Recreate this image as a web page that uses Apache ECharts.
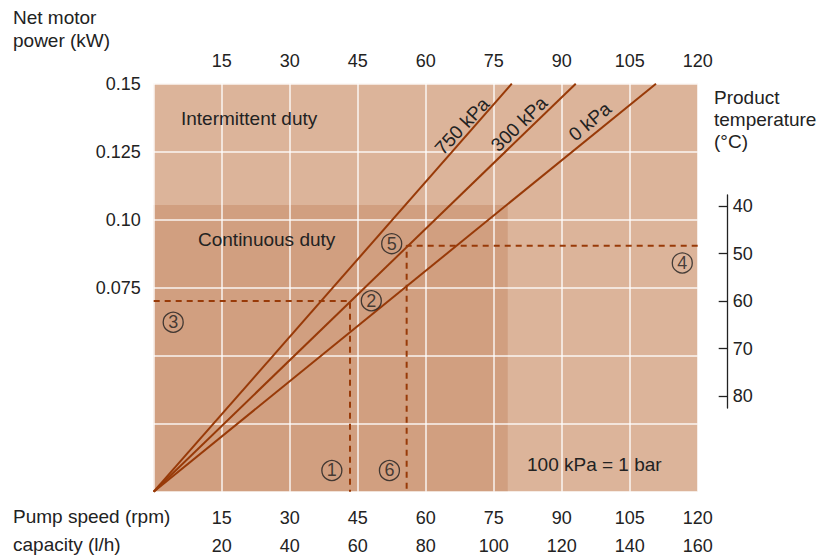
<!DOCTYPE html>
<html><head><meta charset="utf-8">
<script src="https://cdn.jsdelivr.net/npm/echarts@6/dist/echarts.min.js"></script>
<style>html,body{margin:0;padding:0;background:#fff}#c{width:827px;height:556px}</style>
</head><body><div id="c"></div>
<script>
// ---- data ----
const rpmTicks = [15, 30, 45, 60, 75, 90, 105, 120];
const capacityTicks = [20, 40, 60, 80, 100, 120, 140, 160];
const powerTickValues = [0.075, 0.1, 0.125, 0.15];
const powerTickLabels = ['0.075', '0.10', '0.125', '0.15'];
const tempTicks = [40, 50, 60, 70, 80];
const pressureNames = ['750 kPa', '300 kPa', '0 kPa'];
const rpmAtTopPower = [79.0, 93.1, 110.8];      // rpm where each curve reaches 0.15 kW
const topPower = 0.15;
const continuousRpmMax = 78.1;
const continuousPowerMax = 0.1054;
const exampleA = [[0, 0.0701], [43.3, 0.0701], [43.3, 0]];
const exampleB = [[120, 0.0904], [55.8, 0.0904], [55.8, 0]];
const markerNames = ['1', '2', '3', '4', '5', '6'];
const markerPoints = [[39.3, 0.0078], [48.0, 0.0702], [4.3, 0.0623], [116.6, 0.0841], [52.5, 0.0912], [52.0, 0.0078]];
const pressureLabelPos = [[68.0, 0.1344], [80.6, 0.1352], [96.2, 0.1361]];
const pressureLabelRot = [47, 44, 40];

// ---- styles ----
const FONT = 'Liberation Sans';
const TXT = '#222222';
const LINE = '#983a08';
const LIGHT = '#dcb49a';
const DARK = '#d19f80';
const FS = 18;   // digits
const FW = 19;   // words

const chart = echarts.init(document.getElementById('c'), null, {renderer: 'svg'});

const splitWhite = {show: true, lineStyle: {color: 'rgba(255,255,255,0.88)', width: 1.5}};

const series = [];
series.push({
  type: 'line', xAxisIndex: 0, yAxisIndex: 0, data: [], z: 1, silent: true,
  markArea: {
    silent: true,
    data: [
      [{xAxis: 0, yAxis: 0, itemStyle: {color: LIGHT}}, {xAxis: 120, yAxis: topPower}],
      [{xAxis: 0, yAxis: 0, itemStyle: {color: DARK}}, {xAxis: continuousRpmMax, yAxis: continuousPowerMax}]
    ]
  }
});
pressureNames.forEach((n, i) => {
  series.push({
    type: 'line', name: n, xAxisIndex: 0, yAxisIndex: 0, z: 10, symbol: 'none',
    lineStyle: {color: LINE, width: 2}, animation: false,
    data: [[0, 0], [rpmAtTopPower[i], topPower]],
    markPoint: {
      symbol: 'circle', symbolSize: 1, itemStyle: {color: 'rgba(0,0,0,0)'},
      data: [{coord: pressureLabelPos[i], label: {show: true, formatter: n, position: 'inside', rotate: pressureLabelRot[i], color: TXT, fontFamily: FONT, fontSize: FW}}]
    }
  });
});
[exampleA, exampleB].forEach(d => {
  series.push({
    type: 'line', xAxisIndex: 0, yAxisIndex: 0, z: 9, symbol: 'none', animation: false,
    lineStyle: {color: LINE, width: 2, type: [6, 5]}, data: d
  });
});
series.push({
  type: 'scatter', xAxisIndex: 0, yAxisIndex: 0, z: 11, symbol: 'circle', symbolSize: 20,
  itemStyle: {color: 'rgba(0,0,0,0)', borderColor: '#1e1e1e', borderWidth: 1.3},
  label: {show: true, position: 'inside', formatter: p => p.name, color: '#1e1e1e', fontFamily: FONT, fontSize: 18},
  data: markerPoints.map((p, i) => ({name: markerNames[i], value: p})),
  animation: false
});

const option = {
  animation: false,
  backgroundColor: '#ffffff',
  textStyle: {fontFamily: FONT},
  grid: [
    {left: 153.7, top: 83.7, width: 544, height: 408, containLabel: false},
    {left: 697.7, top: 195, width: 30, height: 213, containLabel: false}
  ],
  xAxis: [
    {type: 'value', gridIndex: 0, position: 'top', min: 0, max: 120, interval: 15, z: 3,
     axisLine: {show: false}, axisTick: {show: false}, splitLine: splitWhite,
     axisLabel: {margin: 14, color: TXT, fontSize: FS, fontFamily: FONT, formatter: v => rpmTicks.includes(v) ? String(v) : ''}},
    {type: 'value', gridIndex: 0, position: 'bottom', min: 0, max: 120, interval: 15, z: 3,
     axisLine: {show: false}, axisTick: {show: false}, splitLine: {show: false},
     axisLabel: {margin: 17, color: TXT, fontSize: FS, fontFamily: FONT, formatter: v => rpmTicks.includes(v) ? String(v) : ''}},
    {type: 'value', gridIndex: 0, position: 'bottom', offset: 28, min: 0, max: 160, interval: 20, z: 3,
     axisLine: {show: false}, axisTick: {show: false}, splitLine: {show: false},
     axisLabel: {margin: 17, color: TXT, fontSize: FS, fontFamily: FONT, formatter: v => capacityTicks.includes(v) ? String(v) : ''}},
    {type: 'value', gridIndex: 1, show: false, min: 0, max: 1}
  ],
  yAxis: [
    {type: 'value', gridIndex: 0, min: 0, max: topPower, interval: 0.025, z: 3,
     axisLine: {show: false}, axisTick: {show: false}, splitLine: splitWhite,
     axisLabel: {margin: 13, color: TXT, fontSize: FS, fontFamily: FONT,
       formatter: v => { const k = powerTickValues.findIndex(t => Math.abs(t - v) < 1e-6); return k >= 0 ? powerTickLabels[k] : ''; }}},
    {type: 'value', gridIndex: 1, position: 'right', inverse: true, min: 37.684, max: 82.526,
     axisLine: {show: true, onZero: false, lineStyle: {color: '#222', width: 1.3}},
     axisTick: {show: true, inside: true, length: 9, customValues: tempTicks, lineStyle: {color: '#222', width: 1.3}},
     splitLine: {show: false},
     axisLabel: {margin: 5, color: TXT, fontSize: FS, fontFamily: FONT, customValues: tempTicks}}
  ],
  graphic: [
    {type: 'text', left: 13, top: 6, style: {text: 'Net motor\npower (kW)', fill: TXT, font: `${FW}px "${FONT}"`, lineHeight: 23}},
    {type: 'text', left: 714, top: 86, style: {text: 'Product\ntemperature\n(°C)', fill: TXT, font: `${FW}px "${FONT}"`, lineHeight: 22}},
    {type: 'text', left: 13, top: 507, style: {text: 'Pump speed (rpm)', fill: TXT, font: `${FW}px "${FONT}"`}},
    {type: 'text', left: 13, top: 535, style: {text: 'capacity (l/h)', fill: TXT, font: `${FW}px "${FONT}"`}},
    {type: 'text', left: 181, top: 109, z: 20, style: {text: 'Intermittent duty', fill: TXT, font: `${FW}px "${FONT}"`}},
    {type: 'text', left: 198, top: 230, z: 20, style: {text: 'Continuous duty', fill: TXT, font: `${FW}px "${FONT}"`}},
    {type: 'text', left: 527, top: 455, z: 20, style: {text: '100 kPa = 1 bar', fill: TXT, font: `${FW}px "${FONT}"`}}
  ],
  series: series
};
chart.setOption(option);
</script>
</body></html>
